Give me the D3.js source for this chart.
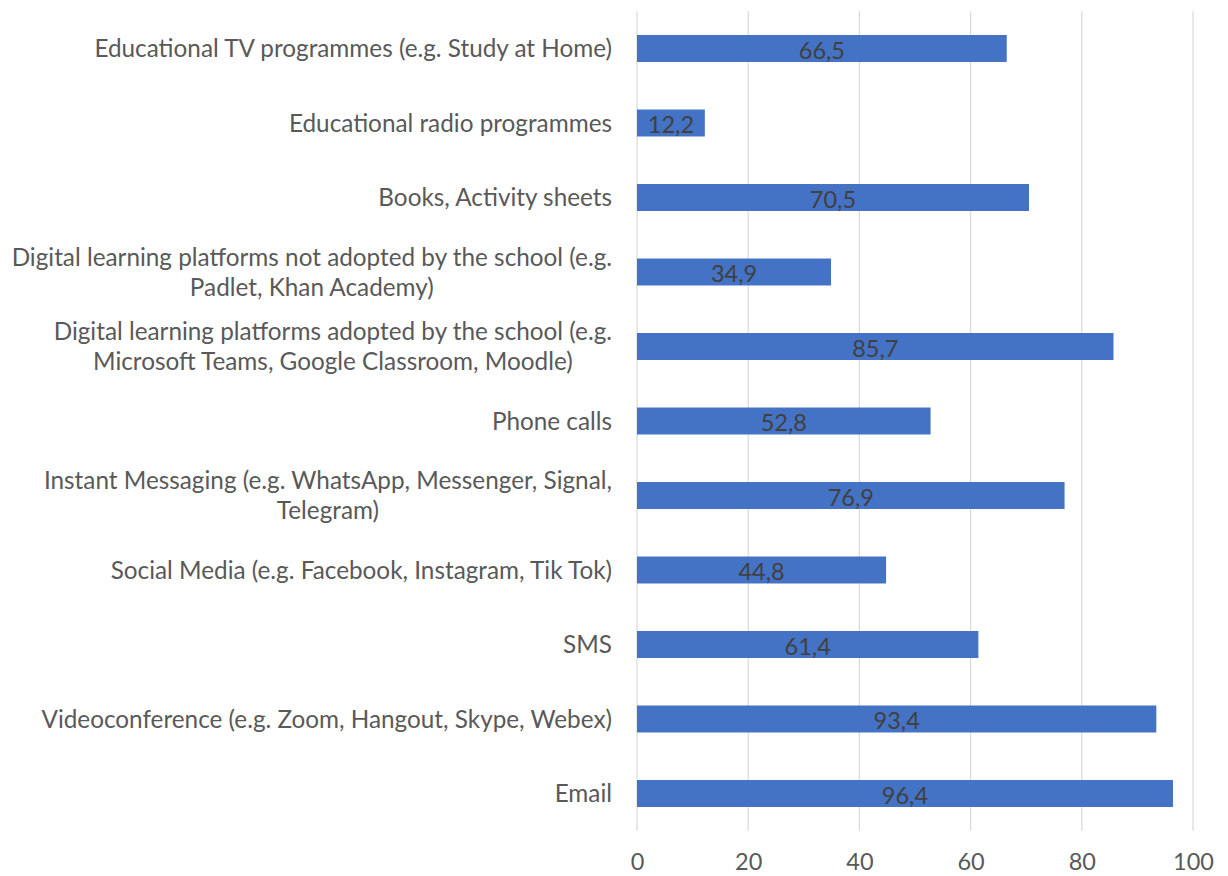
<!DOCTYPE html>
<html>
<head>
<meta charset="utf-8">
<script src="https://cdn.jsdelivr.net/npm/d3@7"></script>
<style>
  html, body { margin: 0; padding: 0; background: #fff; }
  svg { display: block; font-family: Lato, "Open Sans", sans-serif; }
</style>
</head>
<body>
<svg id="chart" width="1228" height="876"></svg>
<script>
// Categories, top to bottom; each entry holds the label lines
const categories = [
  ["Educational TV programmes (e.g. Study at Home)"],
  ["Educational radio programmes"],
  ["Books, Activity sheets"],
  ["Digital learning platforms not adopted by the school (e.g.", "Padlet, Khan Academy)"],
  ["Digital learning platforms adopted by the school (e.g.", "Microsoft Teams, Google Classroom, Moodle)"],
  ["Phone calls"],
  ["Instant Messaging (e.g. WhatsApp, Messenger, Signal,", "Telegram)"],
  ["Social Media (e.g. Facebook, Instagram, Tik Tok)"],
  ["SMS"],
  ["Videoconference (e.g. Zoom, Hangout, Skype, Webex)"],
  ["Email"]
];
const values = [66.5, 12.2, 70.5, 34.9, 85.7, 52.8, 76.9, 44.8, 61.4, 93.4, 96.4];
const tickValues = [0, 20, 40, 60, 80, 100];

const svg = d3.select("#chart");
const plotLeft = 637, plotRight = 1193, plotTop = 11.25, plotBottom = 830.75;

const x = d3.scaleLinear().domain([0, 100]).range([plotLeft, plotRight]);
const y = d3.scaleBand()
  .domain(d3.range(categories.length))
  .range([plotTop, plotBottom])
  .paddingInner(0.638)
  .paddingOuter(0.319);

const fmt = d3.formatLocale({ decimal: ",", thousands: ".", grouping: [3], currency: ["", ""] }).format(".1f");

// Vertical gridlines
svg.append("g")
  .selectAll("line")
  .data(tickValues)
  .join("line")
  .attr("x1", d => x(d)).attr("x2", d => x(d))
  .attr("y1", plotTop).attr("y2", plotBottom)
  .attr("stroke", "#d9d9d9")
  .attr("stroke-width", 1.2);

// Bottom axis labels
const xAxis = d3.axisBottom(x).tickValues(tickValues).tickSize(0).tickPadding(0).tickFormat(d3.format("d"));
const gx = svg.append("g").attr("transform", `translate(0,${plotBottom})`).call(xAxis);
gx.select(".domain").remove();
gx.selectAll("text")
  .attr("y", 31)
  .attr("dy", "0.35em")
  .attr("font-size", 23.5)
  .attr("font-family", "Lato, 'Open Sans', sans-serif")
  .attr("fill", "#595959");

// Bars
svg.append("g")
  .selectAll("rect")
  .data(values)
  .join("rect")
  .attr("x", x(0))
  .attr("y", (d, i) => y(i))
  .attr("width", d => x(d) - x(0))
  .attr("height", y.bandwidth())
  .attr("fill", "#4472c4");

// Value labels centered in each bar
svg.append("g")
  .selectAll("text")
  .data(values)
  .join("text")
  .attr("x", d => (x(0) + x(d)) / 2)
  .attr("y", (d, i) => y(i) + y.bandwidth() / 2 + 2)
  .attr("dy", "0.35em")
  .attr("text-anchor", "middle")
  .attr("font-size", 23.5)
  .attr("fill", "#404040")
  .text(d => fmt(d));

// Category labels: each block right-aligned to the axis, lines centered within the block
const labelRight = 612, lineH = 30;
const labels = svg.append("g").attr("font-size", 24.3).attr("fill", "#595959");
categories.forEach((lines, i) => {
  const cy = y(i) + y.bandwidth() / 2;
  const g = labels.append("g");
  const texts = lines.map((line, k) =>
    g.append("text")
      .attr("y", cy + (k - (lines.length - 1) / 2) * lineH)
      .attr("dy", "0.35em")
      .attr("text-anchor", "middle")
      .text(line)
  );
  const widths = texts.map(t => t.node().getComputedTextLength());
  const w = d3.max(widths);
  texts.forEach(t => t.attr("x", labelRight - w / 2));
});
</script>
</body>
</html>
